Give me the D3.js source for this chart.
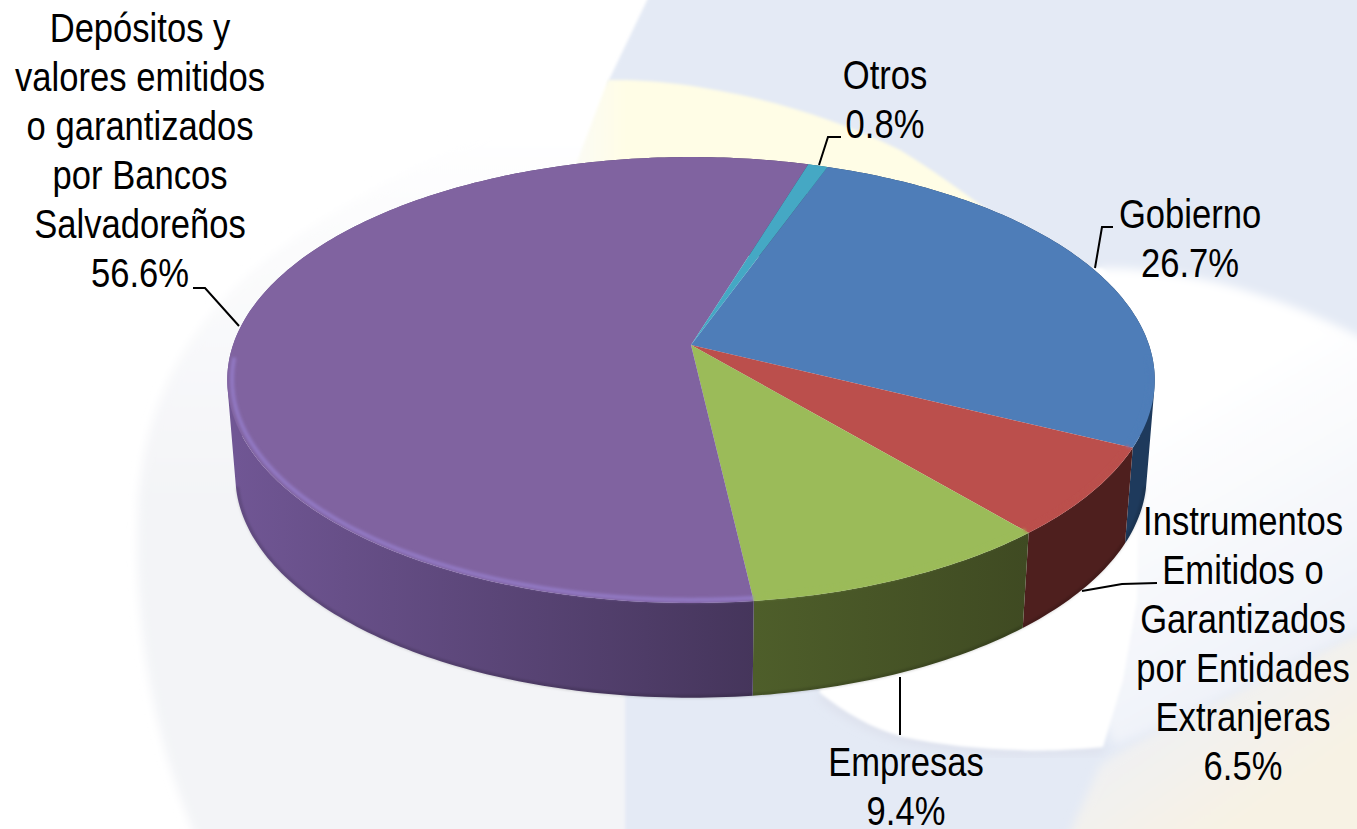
<!DOCTYPE html>
<html>
<head>
<meta charset="utf-8">
<script src="https://cdn.jsdelivr.net/npm/d3@7"></script>
<style>
  html, body { margin: 0; padding: 0; background: #fff; }
  svg { display: block; }
  text { font-family: "Liberation Sans", Arial, sans-serif; font-size: 40px; fill: #000; }
</style>
</head>
<body>
<svg id="chart"></svg>
<script>
const width = 1357, height = 829;

// Data, in clockwise order starting from the Gobierno slice
const categories = ["Gobierno", "Instrumentos", "Empresas", "Depositos", "Otros"];
const shares = [26.7, 6.5, 9.4, 56.6, 0.8];
const topColors = ["#4e7db8", "#bb4f4c", "#9bbb59", "#8063a0", "#45a8c4"];
const wallColorsLeft = ["#1e3a5c", "#561f1f", "#4e5e2a", "#705694", "#2a6a7c"];
const wallColorsRight = ["#1e3a5c", "#4e1f1e", "#3f4a22", "#45355b", "#2a6a7c"];

// label lines and where they sit
const labelLines = [
    ["Gobierno", "26.7%"],
    ["Instrumentos", "Emitidos o", "Garantizados", "por Entidades", "Extranjeras", "6.5%"],
    ["Empresas", "9.4%"],
    ["Depósitos y", "valores emitidos", "o garantizados", "por Bancos", "Salvadoreños", "56.6%"],
    ["Otros", "0.8%"]
];
const labelCenters = [1190, 1243, 906, 140, 885];
const labelTops = [228, 535, 776, 42, 89];
const leaders = [
    [[1113, 227], [1102, 227], [1095, 268]],
    [[1157, 583], [1122, 584], [1082, 591]],
    [[900, 677], [900, 735]],
    [[193, 288], [205, 288], [239, 326]],
    [[841, 137], [828, 137], [819, 165]]
];
const lineGap = 49;
const textSqueeze = 0.865;

const svg = d3.select("#chart").attr("width", width).attr("height", height);
const defs = svg.append("defs");

function blur(id, amount) {
    defs.append("filter").attr("id", id)
        .attr("x", "-10%").attr("y", "-10%").attr("width", "120%").attr("height", "120%")
        .append("feGaussianBlur").attr("stdDeviation", amount);
}
blur("soft", 1.6);
blur("bgsoft", 1.5);
blur("bgwide", 5);

function gradient(id, x1, y1, x2, y2, from, to) {
    const g = defs.append("linearGradient").attr("id", id)
        .attr("gradientUnits", "userSpaceOnUse")
        .attr("x1", x1).attr("y1", y1).attr("x2", x2).attr("y2", y2);
    g.append("stop").attr("offset", 0).attr("stop-color", from);
    g.append("stop").attr("offset", 1).attr("stop-color", to);
}
gradient("paleFade", 0, 120, 0, 500, "#ffffff", "#f3f4f7");
gradient("creamFade", 572, 0, 625, 0, "#fbfbf6", "#fffde6");
gradient("whiteFade", 1150, 420, 1300, 680, "#ffffff", "#eef1f8");
gradient("cornerFade", 1190, 660, 1280, 790, "#eef0f6", "#f7f2e4");

// Background shapes behind the pie
const bg = svg.append("g");
bg.append("rect").attr("width", width).attr("height", height).attr("fill", "#ffffff");
bg.append("path").attr("filter", "url(#bgwide)").attr("fill", "url(#paleFade)")
    .attr("d", "M197,840 C150,730 135,620 138,520 C140,400 190,300 330,215 C420,160 520,110 600,80 L700,840 Z");
bg.append("path").attr("filter", "url(#bgsoft)").attr("fill", "#e4eaf5")
    .attr("d", "M652,-10 L1370,-10 L1370,840 L625,840 L625,600 L608,82 Z");
bg.append("path").attr("filter", "url(#bgsoft)").attr("fill", "url(#creamFade)")
    .attr("d", "M572,175 L608,80 C680,78 800,100 900,150 C930,168 960,190 990,212 L800,300 Z");
bg.append("path").attr("filter", "url(#bgwide)").attr("fill", "url(#cornerFade)")
    .attr("d", "M1370,628 C1260,680 1150,730 1100,765 L1067,840 L1370,840 Z");
bg.append("path").attr("filter", "url(#bgwide)").attr("fill", "url(#whiteFade)")
    .attr("d", "M1100,268 C1190,268 1280,295 1370,342 L1370,625 C1260,675 1180,720 1115,745 L1000,500 Z");
bg.append("path").attr("filter", "url(#bgwide)").attr("fill", "none")
    .attr("stroke", "#dcdfeb").attr("stroke-width", 7)
    .attr("d", "M820,695 C850,720 880,732 903,738 C950,748 1000,752 1020,752 L1103,749");
bg.append("path").attr("filter", "url(#bgsoft)").attr("fill", "#ffffff")
    .attr("d", "M800,268 L1100,268 C1120,268 1138,400 1138,510 L1137,600 L1123,680 L1103,747 C1060,751 1030,751 1020,750 C980,749 940,745 903,737 C870,728 845,712 820,693 Z");

// Perspective disc: u across, v towards the viewer
const cx = 691;
const tilt = -0.157;
const topFace = { c: 458, a: 163.3, b: 345 };
const bottomFace = { c: 450, a: 147.2, b: 441 };

function project(angle, face, radius = 1) {
    const u = Math.sin(angle) * radius, v = -Math.cos(angle) * radius;
    const d = 1 + tilt * v;
    return [cx + face.c * u / d, (face.a * v + face.b) / d];
}

function rimAngles(d) {
    const steps = Math.max(4, Math.ceil((d.endAngle - d.startAngle) * 60));
    return d3.range(steps + 1).map(i => d.startAngle + (d.endAngle - d.startAngle) * i / steps);
}

const pie = d3.pie().sort(null).startAngle(20 * Math.PI / 180).endAngle((20 + 360) * Math.PI / 180);
const slices = pie(shares);
const path = d3.line();

// Wall gradients run left to right across the disc
slices.forEach((d, i) => {
    const isMain = categories[i] == "Depositos";
    gradient("wall" + i, isMain ? 235 : 755, 0, isMain ? 755 : 1030, 0, wallColorsLeft[i], wallColorsRight[i]);
});

// Side walls first, the top faces then hide the back half.
// One hull per rim step so the silhouette at the far left and right stays filled.
function wallPath(d) {
    const a = rimAngles(d);
    return d3.pairs(a).map(([t0, t1]) => {
        const quad = [project(t0, topFace), project(t1, topFace), project(t1, bottomFace), project(t0, bottomFace)];
        return path(d3.polygonHull(quad)) + "Z";
    }).join("");
}

svg.append("g").selectAll("path")
    .data(slices)
    .join("path")
    .attr("d", wallPath)
    .attr("fill", (d, i) => `url(#wall${i})`);

// Darker line under the wall
svg.append("g").attr("filter", "url(#soft)").attr("fill", "none").selectAll("path")
    .data(slices)
    .join("path")
    .attr("d", d => path(rimAngles(d).filter(t => Math.cos(t) < -0.2).map(t => project(t, bottomFace, 0.997))))
    .attr("stroke", "#000")
    .attr("stroke-opacity", 0.25)
    .attr("stroke-width", 2);

// Top faces
svg.append("g").selectAll("path")
    .data(slices)
    .join("path")
    .attr("d", d => path([[cx, topFace.b]].concat(rimAngles(d).map(t => project(t, topFace)))) + "Z")
    .attr("fill", (d, i) => topColors[i]);

// Soft edge where the top face turns into the wall
svg.append("g").attr("filter", "url(#soft)").attr("fill", "none").selectAll("path")
    .data(slices)
    .join("path")
    .attr("d", d => path(rimAngles(d).filter(t => Math.cos(t) < -0.05).map(t => project(t, topFace, 0.99))))
    .attr("stroke", (d, i) => categories[i] == "Depositos" ? "#9279c4" : topColors[i])
    .attr("stroke-width", 4);

// Leader lines
svg.append("g").selectAll("path")
    .data(leaders)
    .join("path")
    .attr("d", d => path(d))
    .attr("fill", "none")
    .attr("stroke", "#000")
    .attr("stroke-width", 2);

// Labels, narrowed to the condensed look of the original
const labels = svg.append("g").selectAll("g")
    .data(labelLines)
    .join("g")
    .attr("transform", (d, i) => `translate(${labelCenters[i]},${labelTops[i]}) scale(${textSqueeze},1)`);

labels.selectAll("text")
    .data(d => d)
    .join("text")
    .attr("y", (d, i) => i * lineGap)
    .attr("text-anchor", "middle")
    .text(d => d);
</script>
</body>
</html>
